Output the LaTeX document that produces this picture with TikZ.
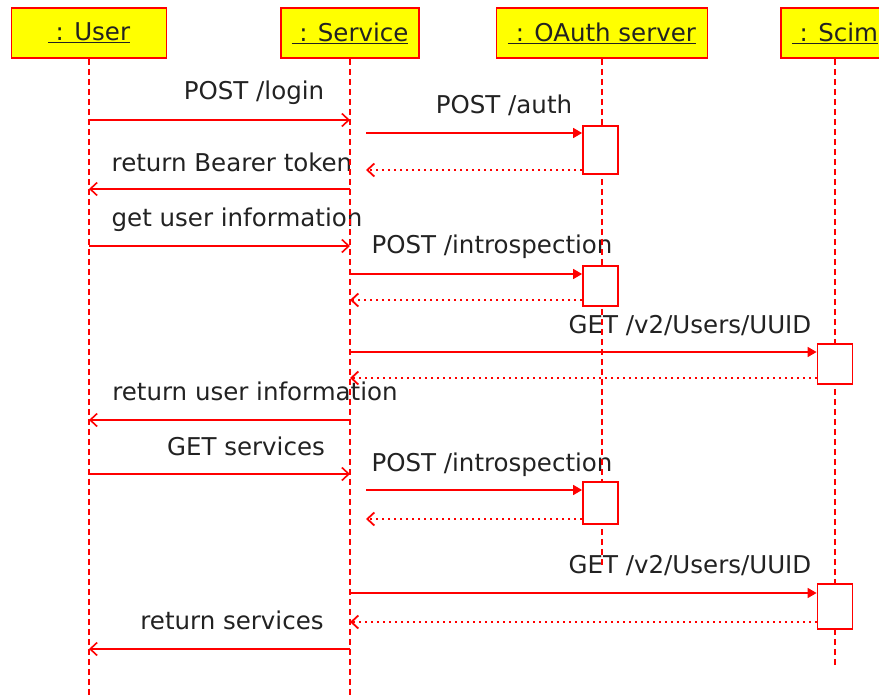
\documentclass[tikz,border=0pt]{standalone}
\usepackage{fontspec}
\setmainfont{DejaVu Sans}
\usetikzlibrary{arrows.meta}
\definecolor{umlred}{RGB}{255,0,0}
\definecolor{umlyellow}{RGB}{255,255,0}
\definecolor{umltext}{RGB}{34,34,34}
\newcommand{\umlfont}{\fontsize{24.5}{29}\selectfont}
\tikzset{
  obj/.style={
    draw=umlred,
    fill=umlyellow,
    line width=1.6pt,
    minimum height=50pt,
    inner sep=0pt,
    font=\umlfont,
    text=umltext
  },
  life/.style={draw=umlred,line width=1.4pt,dash pattern=on 6pt off 4pt},
  act/.style={draw=umlred,fill=white,line width=1.8pt,minimum width=35pt,inner sep=0pt},
  msg/.style={draw=umlred,line width=1.6pt,-{Straight Barb[length=7pt,width=13pt]}},
  call/.style={draw=umlred,line width=1.6pt,-{Triangle[length=9pt,width=10pt]}},
  reply/.style={
    draw=umlred,
    line width=1.8pt,
    dash pattern=on 1.8pt off 4.2pt,
    -{Straight Barb[length=7pt,width=13pt]}
  },
  msglabel/.style={font=\umlfont,text=umltext,anchor=base,inner sep=0pt}
}

\begin{document}
\begin{tikzpicture}[x=1pt,y=-1pt]
  \clip (0,0) rectangle (879,698);
  \fill[white] (0,0) rectangle (879,698);

  \node[obj,minimum width=155pt] (user) at (89,33) {\underline{\ : User}};
  \node[obj,minimum width=138pt] (service) at (350,33) {\underline{\ : Service}};
  \node[obj,minimum width=211pt] (oauth) at (602,33) {\underline{\ : OAuth server}};
  \node[obj,minimum width=108pt] (scim) at (835,33) {\underline{\ : Scim}};

  \node[msglabel] (l1) at (254,100) {POST /login};
  \node[msglabel] (l2) at (504,114) {POST /auth};
  \node[msglabel] (l3) at (232,172) {return Bearer token};
  \node[msglabel] (l4) at (237,226) {get user information};
  \node[msglabel] (l5) at (492,254) {POST /introspection};
  \node[msglabel] (l6) at (690,333) {GET /v2/Users/UUID};
  \node[msglabel] (l7) at (255,400) {return user information};
  \node[msglabel] (l8) at (246,455) {GET services};
  \node[msglabel] (l9) at (492,471) {POST /introspection};
  \node[msglabel] (l10) at (690,573) {GET /v2/Users/UUID};
  \node[msglabel] (l11) at (232,629) {return services};

  \draw[life] (user.south) -- (user.south |- 0,698);
  \draw[life] (service.south) -- (service.south |- 0,698);
  \draw[life] (oauth.south) -- (oauth.south |- 0,566);
  \draw[life] (scim.south) -- (scim.south |- 0,666);

  \node[act,minimum height=48pt] (auth1) at (600.5,150) {};
  \node[act,minimum height=40pt] (auth2) at (600.5,286) {};
  \node[act,minimum height=42pt] (auth3) at (600.5,503) {};
  \node[act,minimum height=40pt] (scim1) at (835,364) {};
  \node[act,minimum height=45pt] (scim2) at (835,606.5) {};

  \draw[msg] (user.south |- 0,120) -- (service.south |- 0,120);
  \draw[call] ([xshift=16pt]service.south |- 0,133) -- (auth1.west |- 0,133);
  \draw[reply] (auth1.west |- 0,170) -- ([xshift=16pt]service.south |- 0,170);
  \draw[msg] (service.south |- 0,189) -- (user.south |- 0,189);

  \draw[msg] (user.south |- 0,246) -- (service.south |- 0,246);
  \draw[call] (service.south |- 0,274) -- (auth2.west |- 0,274);
  \draw[reply] (auth2.west |- 0,300) -- (service.south |- 0,300);
  \draw[call] (service.south |- 0,352) -- (scim1.west |- 0,352);
  \draw[reply] (scim1.west |- 0,378) -- (service.south |- 0,378);
  \draw[msg] (service.south |- 0,420) -- (user.south |- 0,420);

  \draw[msg] (user.south |- 0,474) -- (service.south |- 0,474);
  \draw[call] ([xshift=16pt]service.south |- 0,490) -- (auth3.west |- 0,490);
  \draw[reply] (auth3.west |- 0,519) -- ([xshift=16pt]service.south |- 0,519);
  \draw[call] (service.south |- 0,593) -- (scim2.west |- 0,593);
  \draw[reply] (scim2.west |- 0,622) -- (service.south |- 0,622);
  \draw[msg] (service.south |- 0,649) -- (user.south |- 0,649);
\end{tikzpicture}
\end{document}
